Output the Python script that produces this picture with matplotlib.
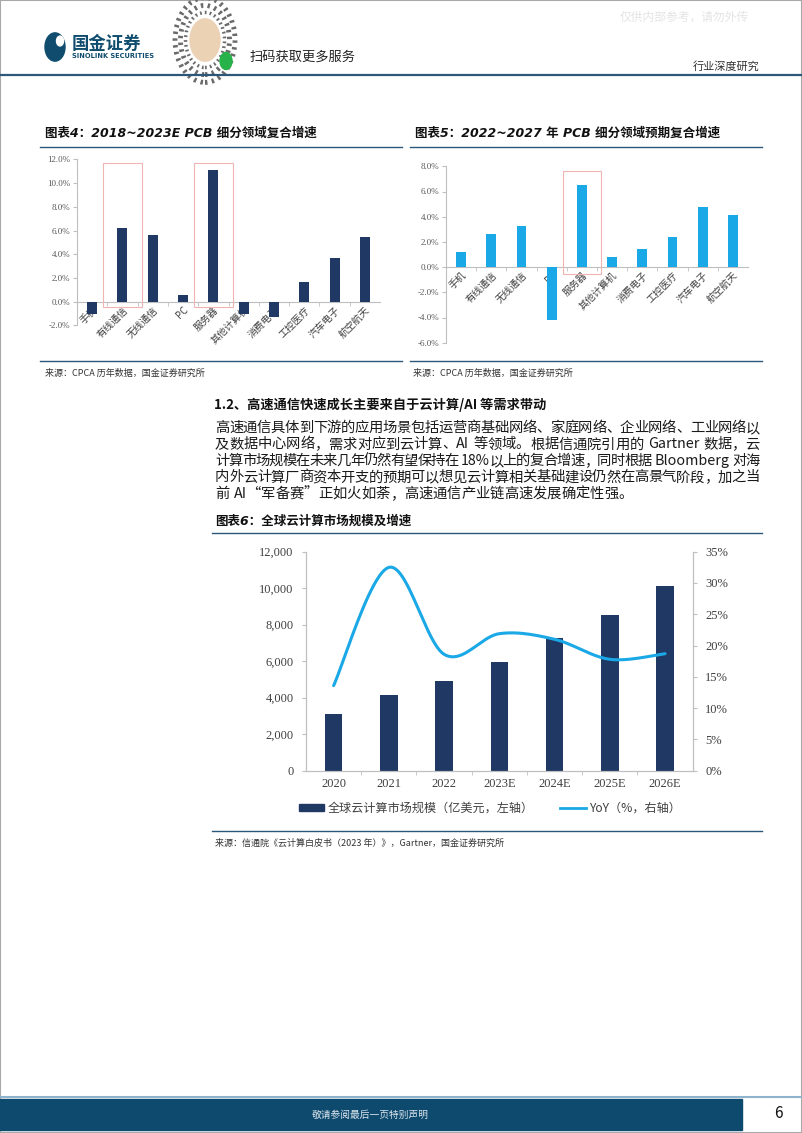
import re
import numpy as np
import matplotlib
matplotlib.use("Agg")
import matplotlib.pyplot as plt
from matplotlib.patches import Rectangle, Circle, Patch
from matplotlib.lines import Line2D

W, H = 802, 1133

# 图表4 / 图表5：PCB 细分领域复合增速（%）
pcb_cats = ["手机", "有线通信", "无线通信", "PC", "服务器", "其他计算机",
            "消费电子", "工控医疗", "汽车电子", "航空航天"]
cagr_2018_2023 = [-1.0, 6.2, 5.6, 0.6, 11.1, -1.0, -1.3, 1.7, 3.7, 5.5]
cagr_2022_2027 = [1.2, 2.6, 3.3, -4.2, 6.5, 0.8, 1.4, 2.4, 4.8, 4.1]
yticks4 = [-2, 0, 2, 4, 6, 8, 10, 12]
yticks5 = [-6, -4, -2, 0, 2, 4, 6, 8]
boxed4 = ["有线通信", "服务器"]
boxed5 = ["服务器"]

# 图表6：全球云计算市场规模（亿美元）及增速（%）
years = ["2020", "2021", "2022", "2023E", "2024E", "2025E", "2026E"]
cloud_size = [3124, 4126, 4910, 5978, 7251, 8530, 10121]
cloud_yoy = [13.6, 32.5, 18.6, 21.9, 21.0, 17.8, 18.7]
size_ticks = [0, 2000, 4000, 6000, 8000, 10000, 12000]
yoy_ticks = [0, 5, 10, 15, 20, 25, 30, 35]

heading = "1.2、高速通信快速成长主要来自于云计算/AI 等需求带动"
para = [
    "高速通信具体到下游的应用场景包括运营商基础网络、家庭网络、企业网络、工业网络以",
    "及数据中心网络，需求对应到云计算、AI 等领域。根据信通院引用的 Gartner 数据，云",
    "计算市场规模在未来几年仍然有望保持在 18%以上的复合增速，同时根据 Bloomberg 对海",
    "内外云计算厂商资本开支的预期可以想见云计算相关基础建设仍然在高景气阶段，加之当",
    "前 AI“军备赛”正如火如荼，高速通信产业链高速发展确定性强。",
]

NAVY = "#1f3864"
CYAN = "#1aa8e6"
DARK = "#2c5778"
GREY = "#bfbfbf"
CJK = ["Noto Sans CJK SC", "DejaVu Sans"]
NUM = ["Liberation Serif", "Noto Sans CJK SC"]
TITLE = ["DejaVu Sans", "Noto Sans CJK SC"]

plt.rcParams["font.family"] = CJK
plt.rcParams["axes.unicode_minus"] = False

fig = plt.figure(figsize=(W / 100, H / 100), dpi=100)


def fx(x):
    return x / W


def fy(y):
    return 1 - y / H


def add_ax(l, t, r, b):
    return fig.add_axes([fx(l), fy(b), (r - l) / W, (b - t) / H])


def hline(x0, x1, y, color=DARK, lw=1.0):
    fig.add_artist(Line2D([fx(x0), fx(x1)], [fy(y), fy(y)], color=color, lw=lw,
                          transform=fig.transFigure))


def put(x, y, s, **kw):
    kw.setdefault("va", "center")
    return fig.text(fx(x), fy(y), s, **kw)


def justified(y, s, x0, x1, size, last=False):
    """两端对齐：汉字按全角宽度，西文按实际宽度"""
    r = fig.canvas.get_renderer()
    em = size * 100 / 72
    toks = re.findall(r"[A-Za-z0-9%.]+|.", s)
    widths = []
    for t in toks:
        if t == " ":
            widths.append(em * 0.3)
        elif t.isascii():
            tmp = fig.text(0, 0, t, fontsize=size)
            widths.append(tmp.get_window_extent(renderer=r).width)
            tmp.remove()
        else:
            widths.append(em)
    gap = 0 if last else (x1 - x0 - sum(widths)) / (len(toks) - 1)
    x = x0
    for t, w in zip(toks, widths):
        if t != " ":
            put(x, y, t, fontsize=size, color="#1a1a1a")
        x += w + gap


def catmull_rom(xv, yv, n=25):
    p = np.column_stack([xv, yv]).astype(float)
    p = np.vstack([p[0], p, p[-1]])
    t = np.linspace(0, 1, n)[:, None]
    segs = []
    for i in range(1, len(p) - 2):
        p0, p1, p2, p3 = p[i - 1], p[i], p[i + 1], p[i + 2]
        segs.append(0.5 * (2 * p1 + (p2 - p0) * t
                           + (2 * p0 - 5 * p1 + 4 * p2 - p3) * t ** 2
                           + (3 * p1 - p0 - 3 * p2 + p3) * t ** 3))
    out = np.vstack(segs)
    return out[:, 0], out[:, 1]


def pcb_chart(rect, vals, yticks, color, boxed, box_lo, box_hi):
    ax = add_ax(*rect)
    # 先把横轴移到 0 处，否则会重置刻度标签的样式
    ax.spines["bottom"].set_position(("data", 0))
    x = np.arange(len(pcb_cats))
    ax.bar(x, vals, width=0.33, color=color, zorder=3)
    ax.set_xlim(-0.5, len(pcb_cats) - 0.5)
    ax.set_ylim(yticks[0], yticks[-1])
    ax.set_yticks(yticks)
    ax.set_yticklabels([f"{v:.1f}%" for v in yticks], family=NUM, fontsize=6.5,
                       color="#595959")
    ax.set_xticks(x)
    ax.set_xticklabels(pcb_cats, rotation=45, ha="right", va="top",
                       rotation_mode="anchor", fontsize=7, color="#404040")
    ax.set_xticks(x[:-1] + 0.5, minor=True)
    ax.tick_params(axis="x", which="major", length=0, pad=2)
    ax.tick_params(axis="x", which="minor", length=3, color=GREY)
    ax.tick_params(axis="y", length=3, color=GREY, pad=2)
    for s in ("top", "right"):
        ax.spines[s].set_visible(False)
    for s in ("left", "bottom"):
        ax.spines[s].set_color(GREY)
        ax.spines[s].set_linewidth(0.8)
    ax.patch.set_alpha(0)
    for name in boxed:
        i = pcb_cats.index(name)
        ax.add_patch(Rectangle((i - 0.64, box_lo), 1.28, box_hi - box_lo, fill=False,
                               ec="#f0b4b4", lw=0.8, zorder=4, clip_on=False))
    return ax


# 页面边框、页眉
fig.add_artist(Rectangle((0, 0), 1, 1, transform=fig.transFigure, fill=False,
                         ec="#a8a8a8", lw=1.5))
fig.add_artist(Circle((fx(55), fy(47)), 10 / W, transform=fig.transFigure,
                      color="#0f4c6e"))
fig.add_artist(Circle((fx(60), fy(41)), 3.5 / W, transform=fig.transFigure,
                      color="white"))
put(72, 44, "国金证券", fontsize=12.5, weight="bold", color="#0f4c6e")
put(72, 55.5, "SINOLINK SECURITIES", family=["DejaVu Sans"], fontsize=4.8,
    weight="bold", color="#0f4c6e")
# 小程序码（示意）
for rad, lw in [(30, 3.5), (24.5, 3.5), (19.5, 2.5)]:
    fig.add_artist(Circle((fx(205), fy(40)), rad / W, transform=fig.transFigure,
                          fill=False, ec="#6a6a6a", lw=lw, ls=(0, (0.5, 0.9))))
fig.add_artist(Circle((fx(205), fy(40)), 15 / W, transform=fig.transFigure,
                      color="#ecd2b4"))
fig.add_artist(Circle((fx(226), fy(61)), 6 / W, transform=fig.transFigure,
                      color="#27b24a"))
put(250, 57, "扫码获取更多服务", fontsize=9.5, color="#222222")
put(620, 17, "仅供内部参考，请勿外传", fontsize=8.5, color="#e4e4e4")
put(693, 66, "行业深度研究", fontsize=8, color="#333333")
hline(0, W, 75, color=DARK, lw=1.6)

# 图表4
put(45, 133, "图表4：2018~2023E PCB 细分领域复合增速", family=TITLE, fontsize=9,
    weight="bold", style="italic", color="#111111")
hline(40, 402, 147)
pcb_chart((77, 159.5, 380, 325.5), cagr_2018_2023, yticks4, NAVY, boxed4, -0.4, 11.7)
hline(40, 402, 361)
put(45, 373, "来源：CPCA 历年数据，国金证券研究所", fontsize=6.5, color="#333333")

# 图表5
put(415, 133, "图表5：2022~2027 年 PCB 细分领域预期复合增速", family=TITLE, fontsize=9,
    weight="bold", style="italic", color="#111111")
hline(410, 762, 147)
pcb_chart((446, 166.3, 748, 342.7), cagr_2022_2027, yticks5, CYAN, boxed5, -0.58, 7.66)
hline(410, 762, 361)
put(413, 373, "来源：CPCA 历年数据，国金证券研究所", fontsize=6.5, color="#333333")

# 正文
put(214, 405, heading, fontsize=9.5, weight="bold", color="#111111")
for k, line in enumerate(para):
    justified(428 + 16.5 * k, line, 215, 760, 10.3, last=(k == len(para) - 1))

# 图表6
put(215, 521, "图表6：全球云计算市场规模及增速", family=TITLE, fontsize=9,
    weight="bold", style="italic", color="#111111")
hline(212, 762, 533)

ax6 = add_ax(306, 551.7, 692.7, 770.7)
x = np.arange(len(years))
ax6.bar(x, cloud_size, width=0.32, color=NAVY, zorder=2)
ax6.set_xlim(-0.5, len(years) - 0.5)
ax6.set_ylim(size_ticks[0], size_ticks[-1])
ax6.set_yticks(size_ticks)
ax6.set_yticklabels([f"{v:,}" for v in size_ticks], family=NUM, fontsize=9,
                    color="#404040")
ax6.set_xticks(x)
ax6.set_xticklabels(years, family=NUM, fontsize=9, color="#404040")
ax6.set_xticks(x[:-1] + 0.5, minor=True)
ax6.tick_params(axis="x", which="major", length=0, pad=5)
ax6.tick_params(axis="x", which="minor", length=3, color=GREY)
ax6.tick_params(axis="y", length=3, color=GREY, pad=6)

ax7 = ax6.twinx()
k = (219 / 35) / ((692.7 - 306) / len(years))
sx, sy = catmull_rom(x, np.array(cloud_yoy) * k)
ax7.plot(sx, sy / k, color=CYAN, lw=2.2, solid_capstyle="round")
ax7.set_ylim(yoy_ticks[0], yoy_ticks[-1])
ax7.set_yticks(yoy_ticks)
ax7.set_yticklabels([f"{v}%" for v in yoy_ticks], family=NUM, fontsize=9,
                    color="#404040")
ax7.tick_params(axis="y", length=3, color=GREY, pad=6)
for a in (ax6, ax7):
    a.spines["top"].set_visible(False)
    for s in ("left", "right", "bottom"):
        a.spines[s].set_color(GREY)
        a.spines[s].set_linewidth(0.8)

handles = [Patch(color=NAVY), Line2D([], [], color=CYAN, lw=2)]
labels = ["全球云计算市场规模（亿美元，左轴）", "YoY（%，右轴）"]
fig.legend(handles, labels, loc="center", bbox_to_anchor=(fx(490), fy(808)), ncol=2,
           frameon=False, fontsize=8.7, handlelength=2.1, handleheight=0.5,
           handletextpad=0.3, columnspacing=2.2, labelcolor="#404040")

hline(212, 762, 831)
put(215, 843, "来源：信通院《云计算白皮书（2023 年）》，Gartner，国金证券研究所",
    fontsize=6.5, color="#333333")

# 页脚
hline(0, W, 1097, color="#8db4cc", lw=1.5)
fig.add_artist(Rectangle((0, fy(1130)), fx(742), (1130 - 1099) / H,
                         transform=fig.transFigure, color="#0e4a6e"))
put(370, 1115, "敬请参阅最后一页特别声明", fontsize=7, color="#dce6ee", ha="center")
put(778, 1114, "6", fontsize=11, color="#111111", ha="center")

fig.savefig("out.png", dpi=100)
